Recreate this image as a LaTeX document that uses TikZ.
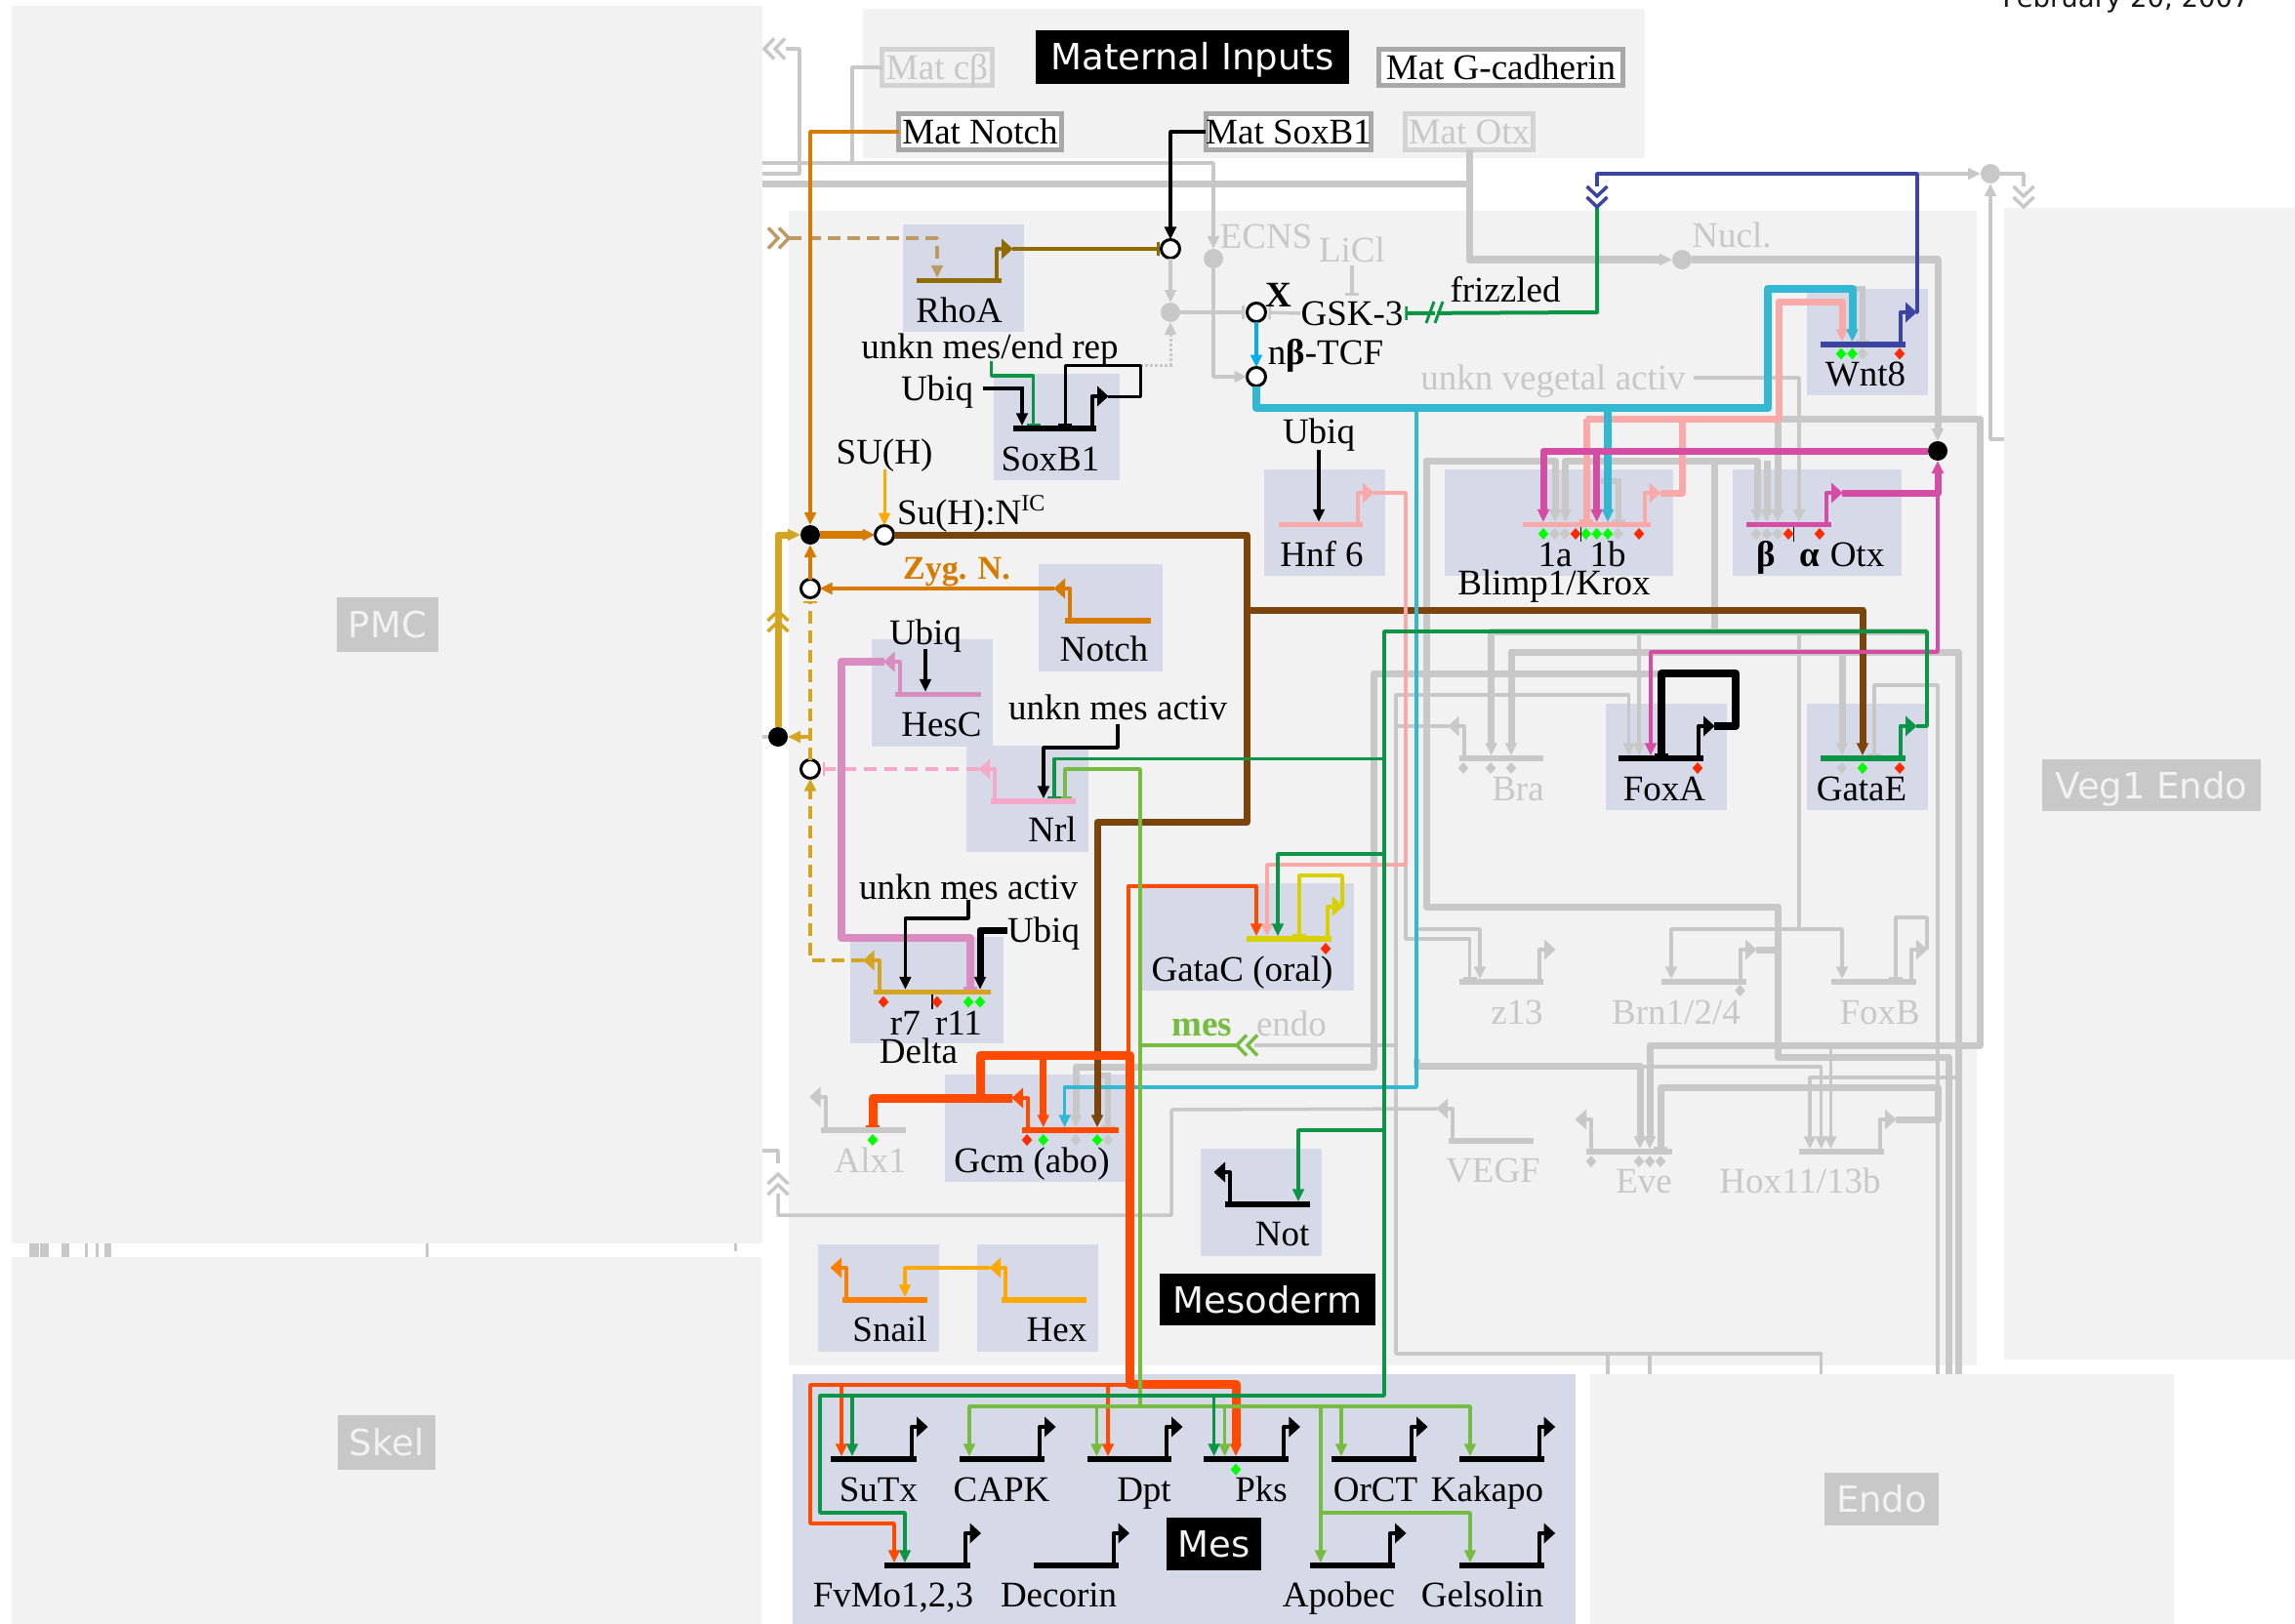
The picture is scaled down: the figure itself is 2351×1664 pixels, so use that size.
\documentclass[tikz,border=0pt]{standalone}
\usepackage{fontspec}
\setmainfont{Liberation Serif}
\newfontfamily\hdrfont{DejaVu Sans}
\usetikzlibrary{arrows.meta}
\definecolor{gy}{HTML}{C8C8C8}
\definecolor{pbg}{HTML}{F2F2F2}
\definecolor{gbg}{HTML}{D6DAE8}
\definecolor{matb}{HTML}{A8A8A8}
\definecolor{rhoc}{HTML}{8F6B00}
\definecolor{tanc}{HTML}{BC9A62}
\definecolor{sal}{HTML}{F9AAA8}
\definecolor{blu}{HTML}{3B44A0}
\definecolor{mag}{HTML}{D44CA4}
\definecolor{org}{HTML}{D67A00}
\definecolor{lorg}{HTML}{FFA800}
\definecolor{mauve}{HTML}{D98CC0}
\definecolor{pnk}{HTML}{F5A8C8}
\definecolor{grn}{HTML}{0C9447}
\definecolor{lgr}{HTML}{76BC40}
\definecolor{yel}{HTML}{D8D000}
\definecolor{gold}{HTML}{D4A520}
\definecolor{rst}{HTML}{FF4A00}
\definecolor{snl}{HTML}{FF7F00}
\definecolor{brw}{HTML}{7A440C}
\definecolor{tea}{HTML}{33B8D4}
\definecolor{dred}{HTML}{FF2A00}
\tikzset{
  ah/.style={-{Triangle[length=13pt,width=11.5pt]}},
  tb/.style={-{Bar[width=14pt,line width=2.5pt]}},
  wr/.style={line width=3.5pt,line join=round},
  wk/.style={line width=7pt,line join=round},
  gthin/.style={wr,draw=gy},
  gthick/.style={wk,draw=gy},
  lbl/.style={font=\fontsize{37}{40}\selectfont,text height=25pt,text depth=0pt,inner sep=0pt,outer sep=0pt,text=black},
  ltg/.style={lbl,text=gy},
  bdot/.style={circle,fill=black,minimum size=20pt,inner sep=0pt,outer sep=0pt},
  gdot/.style={circle,fill=gy,minimum size=20pt,inner sep=0pt,outer sep=0pt},
  wdot/.style={circle,fill=white,draw=black,line width=3pt,minimum size=19pt,inner sep=0pt,outer sep=0pt},
  barnode/.style={rectangle,minimum height=5.5pt,inner sep=0pt,outer sep=0pt},
  panelnode/.style={rectangle,inner sep=0pt,outer sep=0pt},
}
% name x1 y1 x2 y2 fill
\newcommand{\panel}[6]{\node[panelnode,fill=#6,minimum width={(#4-#2)*1pt},minimum height={(#5-#3)*1pt}] (#1) at ({(#2+#4)/2},{(#3+#5)/2}) {};}
% name x1 y1 x2 y2 fill textcolor text
\newcommand{\hdrbox}[8]{\node[panelnode,fill=#6,text=#7,font=\hdrfont\fontsize{37}{40}\selectfont,text height=27pt,text depth=0pt,minimum width={(#4-#2)*1pt},minimum height={(#5-#3)*1pt}] (#1) at ({(#2+#4)/2},{(#3+#5)/2}) {#8};}
% name x1 y1 x2 y2 border fill textcolor text
\newcommand{\matbox}[9]{\node[panelnode,draw=#6,line width=5pt,fill=#7,text=#8,font=\fontsize{37}{40}\selectfont,text height=25pt,text depth=0pt,minimum width={(#4-#2-5)*1pt},minimum height={(#5-#3-5)*1pt}] (#1) at ({(#2+#4)/2},{(#3+#5)/2}) {#9};}
% name x1 x2 ybar color xprom ytop dir
\newcommand{\gene}[8]{%
  \node[barnode,fill=#5,minimum width={(#3-#2)*1pt}] (#1) at ({(#2+#3)/2},#4) {};
  \coordinate (#1-t) at ({#6+(#8)*16},#7);
  \draw[#5,line width=4pt,line join=round] (#6,#4) -- (#6,#7) -- ({#6+(#8)*6},#7);
  \fill[#5] ({#6+(#8)*5},#7-10.5) -- ({#6+(#8)*16.5},#7) -- ({#6+(#8)*5},#7+10.5) -- cycle;
}
\newcommand{\chev}[4]{\begin{scope}[shift={(#1,#2)},rotate=#3]
  \draw[#4,line width=3.5pt,line join=miter] (-10,-10.5) -- (0,0) -- (-10,10.5);
  \draw[#4,line width=3.5pt,line join=miter] (-21,-10.5) -- (-11,0) -- (-21,10.5);
\end{scope}}
\newcommand{\dia}[3]{\fill[#3] (#1-5.3,#2) -- (#1,#2-6) -- (#1+5.3,#2) -- (#1,#2+6) -- cycle;}
\newcommand{\lab}[5][lbl]{\node[#1] (#2) at (#3,#4) {#5};}
\begin{document}
\begin{tikzpicture}[x=1pt,y=-1pt]
\clip (0,0) rectangle (2351,1664);
\fill[white] (0,0) rectangle (2351,1664);
% ---- panels
\panel{pmc}{12}{6}{781}{1274}{pbg}
\panel{skel}{12}{1288}{780}{1664}{pbg}
\panel{matP}{884}{9}{1685}{162}{pbg}
\panel{mesoP}{808}{216}{2025}{1399}{pbg}
\panel{veg}{2053}{213}{2351}{1393}{pbg}
\panel{mesP}{812}{1408}{1614}{1664}{gbg}
\panel{endoP}{1629}{1408}{2227}{1664}{pbg}
% ---- gene backgrounds
\panel{bgRho}{925}{230}{1049}{340}{gbg}
\panel{bgSox}{1018}{383}{1147}{492}{gbg}
\panel{bgHnf}{1295}{481}{1419}{590}{gbg}
\panel{bgWnt}{1851}{296}{1975}{405}{gbg}
\panel{bgBli}{1480}{481}{1714}{590}{gbg}
\panel{bgOtx}{1775}{481}{1948}{590}{gbg}
\panel{bgNot}{1064}{578}{1191}{688}{gbg}
\panel{bgHes}{893}{655}{1017}{765}{gbg}
\panel{bgNrl}{990}{764}{1115}{873}{gbg}
\panel{bgFox}{1645}{721}{1769}{830}{gbg}
\panel{bgGae}{1851}{721}{1975}{830}{gbg}
\panel{bgGac}{1168}{905}{1387}{1015}{gbg}
\panel{bgDel}{871}{960}{1028}{1069}{gbg}
\panel{bgGcm}{968}{1101}{1153}{1211}{gbg}
\panel{bgNt}{1230}{1177}{1354}{1287}{gbg}
\panel{bgSna}{838}{1275}{962}{1385}{gbg}
\panel{bgHex}{1001}{1275}{1125}{1385}{gbg}
% ---- stubs between the PMC and Skel panels
\foreach \a/\b in {30/40,41/50,63/71,87/90,98/101,107/114,436/439}{\fill[gy] (\a,1274) rectangle (\b,1288);}
\fill[gy] (752,1274) rectangle (755,1282);
% ---- headers
\hdrbox{hPMC}{345}{612}{449}{668}{gy}{pbg}{PMC}
\hdrbox{hSkel}{346}{1450}{446}{1506}{gy}{pbg}{Skel}
\hdrbox{hEndo}{1869}{1509}{1986}{1563}{gy}{pbg}{Endo}
\hdrbox{hVeg}{2092}{778}{2316}{831}{gy}{pbg}{Veg1 Endo}
\hdrbox{hMat}{1061}{31}{1382}{86}{black}{white}{Maternal Inputs}
\hdrbox{hMeso}{1188}{1305}{1409}{1358}{black}{pbg}{Mesoderm}
\hdrbox{hMes}{1195}{1555}{1292}{1609}{black}{pbg}{Mes}
\node[font=\hdrfont\fontsize{27.5}{30}\selectfont,anchor=base,inner sep=0pt,text=black!90] (date) at (2178,8) {February 20, 2007};
% ---- maternal boxes
\matbox{matnotch}{918}{114}{1090}{156}{matb}{white}{black}{Mat Notch}
\matbox{matsox}{1233}{114}{1407}{156}{matb}{white}{black}{Mat SoxB1}
\matbox{matotx}{1437}{114}{1573}{156}{gy!80}{pbg}{gy}{Mat Otx}
\matbox{matcb}{901}{48}{1019}{90}{gy!80}{pbg}{gy}{Mat cβ}
\matbox{matg}{1410}{48}{1665}{90}{matb}{white}{black}{Mat G-cadherin}
% ---- genes
\gene{rhoa}{939}{1026}{287.5}{rhoc}{1021}{255}{1}
\gene{sox}{1037.6}{1123}{439}{black}{1119}{406}{1}
\gene{hnf}{1310}{1396}{537.5}{sal}{1391}{505}{1}
\gene{wnt}{1865}{1952}{353}{blu}{1947}{320}{1}
\gene{blimp}{1559.6}{1691}{537.7}{sal}{1684.6}{505}{1}
\gene{otx}{1788.6}{1875.7}{537.7}{mag}{1871}{505}{1}
\gene{notch}{1091}{1179}{636}{org}{1096}{603}{-1}
\gene{hesc}{917}{1005}{711.6}{mauve}{921.6}{678}{-1}
\gene{nrl}{1015}{1102}{821}{pnk}{1019}{788}{-1}
\gene{foxa}{1658}{1745}{777}{black}{1740}{744}{1}
\gene{gatae}{1865}{1952}{777}{grn}{1947}{744}{1}
\gene{bra}{1495}{1581}{777}{gy}{1499.6}{744}{-1}
\gene{gatac}{1276.5}{1363.5}{962}{yel}{1359.6}{928.6}{1}
\gene{delta}{895}{1015}{1016.6}{gold}{900.6}{984}{-1}
\gene{zth}{1495}{1581}{1006}{gy}{1577}{973}{1}
\gene{brn}{1701.6}{1789}{1006}{gy}{1783}{973}{1}
\gene{foxb}{1876}{1962.5}{1006}{gy}{1958}{973}{1}
\gene{gcm}{1047}{1146}{1158}{rst}{1053}{1125}{-1}
\gene{alx}{840.6}{928}{1158}{gy}{845.7}{1124}{-1}
\gene{vegf}{1483.5}{1570.5}{1169}{gy}{1488}{1136}{-1}
\gene{eve}{1625.4}{1712.5}{1180}{gy}{1630}{1147}{-1}
\gene{hox}{1843}{1930}{1180}{gy}{1926}{1147}{1}
\gene{gNot}{1255}{1342}{1234}{black}{1260}{1201}{-1}
\gene{snail}{862.5}{950}{1332}{snl}{867}{1299}{-1}
\gene{hexg}{1026}{1113}{1332}{lorg}{1030}{1299}{-1}
\gene{sutx}{851.4}{939}{1495}{black}{934}{1462}{1}
\gene{capk}{982.5}{1070}{1495}{black}{1065}{1462}{1}
\gene{dpt}{1113.6}{1200}{1495}{black}{1195}{1462}{1}
\gene{pks}{1233}{1320.4}{1495}{black}{1315.4}{1462}{1}
\gene{orct}{1364}{1451}{1495}{black}{1446}{1462}{1}
\gene{kak}{1495}{1581.6}{1495}{black}{1576.6}{1462}{1}
\gene{fv}{906}{993.5}{1604}{black}{988.5}{1571}{1}
\gene{dec}{1058.8}{1145.5}{1604}{black}{1140.5}{1571}{1}
\gene{apo}{1342.4}{1429}{1604}{black}{1424}{1571}{1}
\gene{gel}{1495}{1581.6}{1604}{black}{1576.6}{1571}{1}
% ---- text nodes that wires start from
\lab{gsk}{1385}{321}{GSK-3}
\lab[ltg]{licl}{1385}{256}{LiCl}
\lab[ltg]{uveg}{1591}{387}{unkn vegetal activ}
\lab{unkrep}{1014}{355}{unkn mes/end rep}
\lab{ubiqA}{960}{398}{Ubiq}
\lab{ubiqB}{1351}{442}{Ubiq}
\lab{ubiqC}{948}{648}{Ubiq}
\lab{ubiqD}{1069}{953}{Ubiq}
\lab{unkA}{1145}{725}{unkn mes activ}
\lab{unkB}{992}{909}{unkn mes activ}
\lab{suh}{906}{463}{SU(H)}
% ---- junctions
\node[wdot] (jc) at (1199,255) {};
\node[gdot] (gd) at (1199,320) {};
\node[gdot] (ecns) at (1243,265) {};
\node[wdot] (jX) at (1287,320) {};
\node[wdot] (jT) at (1287,386) {};
\node[bdot] (jA) at (830,548) {};
\node[wdot] (jS) at (906,548) {};
\node[wdot] (jN) at (830,603) {};
\node[bdot] (jB) at (797,755) {};
\node[wdot] (jD) at (830,788) {};
\node[bdot] (jR) at (1985,462) {};
\node[gdot] (nucl) at (1723,266) {};
\node[gdot] (gr) at (2039,178) {};
\coordinate (sl) at (1168,374);
% ---- gray wires, thin
\draw[gthin] (pmc.east|-0,178) -- (819,178) -- (819,50) -- (805,50);
\chev{783}{50}{180}{gy}
\draw[gthin,ah] (pmc.east|-0,167) -| (ecns);
\draw[gthin] (matcb.west) -| (873,167);
\draw[gthin,ah] (jc) -- (gd);
\draw[gthin,tb,shorten >=3pt] (gd) -- (jX);
\draw[gthin,tb,shorten >=3pt] (gsk.west) -- (jX);
\draw[gthin,ah] (ecns) |- (jT);
\draw[gthin,tb,shorten >=6pt,shorten <=3pt] (licl.south) -- (licl.south|-gsk.north);
\draw[gy,line width=3pt,densely dashed,ah] (sl) -| (gd);
\draw[gthin,ah] (1964,178) -- (gr);
\draw[gthin] (gr) -| (2073,191);
\chev{2073}{212}{-90}{gy}
\draw[gthin,ah] (veg.west|-0,450) -| (gr);
\draw[gthin,ah] (uveg.east) ++(8,0) -| (1843,0|-otx.north);
\draw[gthin] (1843,650) -- (1843,952);
\draw[gthin,ah] (1843,952) -- (1712,952) -- (1712,0|-brn.north);
\draw[gthin,ah] (1843,952) -- (1887,952) -- (1887,0|-foxb.north);
\draw[gthin,tb] (foxb-t) -- (1974,973) -- (1974,940) -- (1942,940) -- (1942,0|-foxb.north);
\draw[gthin] (bra-t) -- (1430,744);
\draw[gthin,ah] (1865.6,0|-endoP.north) -- (1865.6,1387) -- (1430,1387) -- (1430,712) -- (1668.6,712) -- (1668.6,0|-foxa.north);
\draw[gthin] (1647,1387) -- (1647,0|-endoP.north);
\draw[gthin] (1690,1387) -- (1690,0|-endoP.north);
\draw[gthin,ah] (1679,647) -- (1679,0|-foxa.north);
\draw[gthin,tb] (1985,0|-endoP.north) -- (1985,702) -- (1920,702) -- (1920,0|-gatae.north);
\draw[gthin,ah] (1451,952) -- (1516,952) -- (1516,0|-zth.north);
\draw[gthin,tb] (1440,886) -- (1440,962) -- (1505.6,962) -- (1505.6,0|-zth.north);
\draw[gthin,ah] (1680,1093) -- (1865.6,1093) -- (1865.6,0|-hox.north);
\draw[gthin,ah] (1875.4,1071) -- (1875.4,0|-hox.north);
\draw[gthin,ah] (2006,1104) -- (1854,1104) -- (1854,0|-hox.north);
\draw[gthin] (1285,1071) -- (1428,1071);
\draw[gthin] (vegf-t) -- (1200,1137) -- (1200,1245) -- (797,1245) -- (797,1223);
\chev{797}{1203}{90}{gy}
\draw[gthin] (797,1192) -- (797,1179) -- (pmc.east|-0,1179);
\draw[gthin] (pmc.east|-0,755) -- (jB);
% ---- gray wires, thick
\draw[gthick] (pmc.east|-0,189) -- (1505,189);
\draw[gthick,ah] (matotx.south) |- (nucl);
\draw[gthick,ah] (nucl) -| (jR);
\draw[gthick,ah] (1996,0|-endoP.north) -- (1996,1083) -- (1821.5,1083) -- (1821.5,929) -- (1461,929) -- (1461,472) -- (1593,472) -- (1593,0|-blimp.north);
\draw[gthick,ah] (1756,472) -- (1603.6,472) -- (1603.6,0|-blimp.north);
\draw[gthick,ah] (1756,472) -- (1800,472) -- (1800,0|-otx.north);
\draw[gthick] (1756,472) -- (1756,647);
\draw[gthick,ah] (1974,647) -- (1527.6,647) -- (1527.6,0|-bra.north);
\draw[gthick,ah] (1810,472) -- (1810,0|-otx.north);
\draw[gthick,ah] (1821,429) -- (1821,0|-otx.north);
\draw[gthick,ah] (1822,429) -- (2028.6,429) -- (2028.6,1071) -- (1690,1071) -- (1690,0|-eve.north);
\draw[gthick,ah] (2006,0|-endoP.north) -- (2006,668) -- (1548,668) -- (1548,0|-bra.north);
\draw[gthick,ah] (1887,668) -- (1887,0|-gatae.north);
\draw[gthick,ah] (1700,690) -- (1407,690) -- (1407,1093) -- (1102,1093) -- (1102,0|-gcm.north);
\draw[gthick,ah] (1451,1085) -- (1451,1092) -- (1680,1092) -- (1680,0|-eve.north);
\draw[gthick,tb] (hox-t) -- (1985,1147) -- (1985,1114) -- (1701,1114) -- (1701,0|-eve.north);
\draw[gthick] (brn-t) -- (1821,973);
\draw[line width=6pt,gy,tb] (1640,493) -- (1658,493) -- (1658,0|-blimp.north);
\draw[line width=6pt,gy,tb] (1897,296) -- (1908,296) -- (1908,0|-wnt.north);
\draw[line width=6pt,gy,tb] (1124,1102) -- (1135,1102) -- (1135,0|-gcm.north);
% ---- brown and salmon
\draw[brw,wk] (jS) -- (1277,548) -- (1277,842.5) -- (1124,842.5) -- (1124,1100);
\draw[brw,wk,ah] (1277,625) -- (1908,625) -- (1908,0|-gatae.north);
\draw[sal,wk] (blimp-t) -- (1723,505) -- (1723,429);
\draw[sal,wk,ah] (1625,429) -- (1822,429) -- (1822,309) -- (1887,309) -- (1887,0|-wnt.north);
\draw[sal,wk,tb] (1625,429) -- (1625,0|-blimp.north);
\draw[sal,wr,ah] (hnf-t) -- (1440,505) -- (1440,886) -- (1298,886) -- (1298,0|-gatac.north);
% ---- teal
\draw[tea,line width=8pt,line join=round,ah] (jT) -- (1287,418) -- (1811,418) -- (1811,296) -- (1897.5,296) -- (1897.5,0|-wnt.north);
\draw[tea,line width=8pt,ah] (1647,418) -- (1647,0|-blimp.north);
\draw[tea,wr,ah] (1451,418) -- (1451,1114) -- (1090.6,1114) -- (1090.6,0|-gcm.north);
\draw[cyan,wr,ah] (jX) -- (jT);
% ---- magenta
\draw[mag,wk,ah] (jR) -- (1581,462) -- (1581,0|-blimp.north);
\draw[mag,wk,ah] (1635.7,462) -- (1635.7,0|-blimp.north);
\draw[mag,wk,ah] (otx-t) -| (jR);
\draw[mag,wr,ah] (1985,505) -- (1985,668) -- (1691,668) -- (1691,0|-foxa.north);
% ---- upper left network
\draw[rhoc,wr,tb,shorten >=2pt] (rhoa-t) -- (jc);
\draw[tanc,wr,dashed,dash pattern=on 13pt off 7pt,ah] (808,244) -- (960,244) -- (960,0|-rhoa.north);
\chev{808}{244}{0}{tanc}
\draw[black,wr,ah] (matsox.west) -| (jc);
\draw[black,line width=4pt,ah,shorten <=10pt] (ubiqA.east) -| (1047,0|-sox.north);
\draw[grn,wr,tb] (1015.7,370) -- (1015.7,385) -- (1058.6,385) -- (1058.6,0|-sox.north);
\draw[black,line width=3pt,line join=round,tb] (sox-t) -- (1168,406) -- (sl) -- (1091,374) -- (1091,0|-sox.north);
\draw[black,wr,ah,shorten <=6pt] (ubiqB.south) -- (ubiqB.south|-hnf.north);
\draw[org,wr,ah] (matnotch.west) -| (jA);
\draw[org,line width=8pt,ah] (jA) -- (jS);
\draw[lorg,line width=3pt,ah,shorten <=5pt] (suh.south) -- (jS);
\draw[org,wr,ah] (notch-t) -- (jN);
\draw[org,wr,ah] (jN) -- (jA);
\draw[gold,line width=3.5pt,dashed,dash pattern=on 13pt off 7pt,ah] (delta-t) -| (jD);
\draw[gold,line width=3.5pt,dashed,dash pattern=on 13pt off 7pt,tb,shorten >=3pt] (jD) -- (jN);
\draw[gold,wr,ah] (830,755) -- (jB);
\draw[gold,wk,ah] (jB) -- (797,548) -- (jA);
\chev{797}{626}{90}{gold}
\draw[pnk,wr,dashed,dash pattern=on 13pt off 8pt,tb,shorten >=3pt] (nrl-t) -- (jD);
\draw[mauve,line width=8pt,line join=round,tb] (hesc-t) -- (862,678) -- (862,961) -- (993.5,961) -- (993.5,0|-delta.north);
\draw[black,wr,ah,shorten <=4pt] (ubiqC.south) -- (ubiqC.south|-hesc.north);
\draw[black,wr,ah,shorten <=4pt] (unkA.south) -- (1145,766) -- (1069,766) -- (1069,0|-nrl.north);
\draw[black,wr,ah] (unkB.south) -- (992,941) -- (927.4,941) -- (927.4,0|-delta.north);
\draw[black,wk,ah] (ubiqD.west) -| (1004,0|-delta.north);
\draw[black,line width=8pt,line join=round,tb] (foxa-t) -- (1778,744) -- (1778,690) -- (1702,690) -- (1702,0|-foxa.north);
% ---- orange-red
\draw[rst,line width=9pt,line join=round,tb] (gcm-t) -- (894,1125) -- (894,0|-alx.north);
\draw[rst,line width=9pt,line join=round,ah] (1004,1125) -- (1004,1081) -- (1157,1081) -- (1157,1418) -- (1266,1418) -- (1266,0|-pks.north);
\draw[brw,wk,ah] (1124,1095) -- (1124,0|-gcm.north);
\draw[rst,wk,ah] (1068.7,1081) -- (1068.7,0|-gcm.north);
\draw[rst,line width=4pt,line join=round,ah] (1156,1081) -- (1156,908) -- (1287,908) -- (1287,0|-gatac.north);
\draw[rst,wr,ah] (1157,1419) -- (830,1419) -- (830,1561) -- (916,1561) -- (916,0|-fv.north);
\draw[rst,wr,ah] (862,1419) -- (862,0|-sutx.north);
\draw[rst,wr,ah] (1135,1419) -- (1135,0|-dpt.north);
% ---- light green
\draw[lgr,wr,tb] (1168,1441) -- (1168,788) -- (1091,788) -- (1091,0|-nrl.north);
\draw[lgr,wr] (1168,1071) -- (1270,1071);
\chev{1267}{1071}{180}{lgr}
\draw[lgr,wr,ah] (1506,1441) -- (993,1441) -- (993,0|-capk.north);
\draw[lgr,wr,ah] (993,1441) -- (1506,1441) -- (1506,0|-kak.north);
\draw[lgr,wr,ah] (1123.5,1441) -- (1123.5,0|-dpt.north);
\draw[lgr,wr,ah] (1254.6,1441) -- (1254.6,0|-pks.north);
\draw[lgr,wr,ah] (1374,1441) -- (1374,0|-orct.north);
\draw[lgr,wr,ah] (1352.8,1441) -- (1352.8,0|-apo.north);
\draw[lgr,wr,ah] (1352.8,1550) -- (1506,1550) -- (1506,0|-gel.north);
% ---- green
\draw[grn,wr,tb] (1418,777.5) -- (1080,777.5) -- (1080,0|-nrl.north);
\draw[grn,wr,ah] (gatae-t) -- (1974,744) -- (1974,647) -- (1418,647) -- (1418,1430) -- (840,1430) -- (840,1550) -- (927,1550) -- (927,0|-fv.north);
\draw[grn,wr,ah] (1418,875) -- (1309,875) -- (1309,0|-gatac.north);
\draw[grn,wr,ah] (1418,1158) -- (1330,1158) -- (1330,0|-gNot.north);
\draw[grn,wr,ah] (1243.6,1430) -- (1243.6,0|-pks.north);
\draw[grn,wr,ah] (873,1430) -- (873,0|-sutx.north);
\draw[grn,line width=4pt,line join=round,tb,shorten >=2pt] (1636,211) -- (1636,320) -- (gsk.east);
\draw[pbg,line width=5pt] (1470,320) -- (1472,320);
\draw[grn,line width=3pt] (1461,331) -- (1469,309);
\draw[grn,line width=3pt] (1470,331) -- (1478,309);
\draw[blu,wr] (wnt-t) -- (1964,320) -- (1964,178) -- (1636,178) -- (1636,191);
\chev{1636}{212}{-90}{blu}
% ---- yellow, orange loops
\draw[yel,wr,tb] (gatac-t) -- (1375,928.6) -- (1375,897) -- (1331,897) -- (1331,0|-gatac.north);
\draw[lorg,wr,ah] (hexg-t) -- (927,1299) -- (927,0|-snail.north);
% ---- diamonds
\foreach \x/\c in {1886/green,1897.5/green,1908/gy,1946/dred}{\dia{\x}{362.5}{\c}}
\foreach \x/\c in {1581/green,1592.5/gy,1603/gy,1614/dred,1624.6/green,1635.7/green,1647/green,1657.5/gy,1679/dred}{\dia{\x}{547}{\c}}
\foreach \x/\c in {1799/gy,1810/gy,1821/gy,1832/dred,1864/dred}{\dia{\x}{547}{\c}}
\draw[black,line width=1.5pt] (1619.6,540) -- (1619.6,555);
\draw[black,line width=1.5pt] (1837.5,540) -- (1837.5,555);
\draw[black,line width=1.5pt] (955,1019) -- (955,1034);
\foreach \x/\c in {905/dred,960/dred,992/green,1004/green}{\dia{\x}{1026.6}{\c}}
\dia{1739}{787}{dred}
\foreach \x/\c in {1886.7/gy,1908/green,1946/dred}{\dia{\x}{787}{\c}}
\foreach \x in {1499,1527,1548}{\dia{\x}{787}{gy}}
\dia{1358}{972}{dred}
\dia{1782.5}{1015}{gy}
\foreach \x/\c in {1052/dred,1068.7/green,1102/gy,1124/green,1135/gy}{\dia{\x}{1168}{\c}}
\dia{894}{1168}{green}
\foreach \x in {1630,1679,1690,1701}{\dia{\x}{1190}{gy}}
\dia{1266}{1505.7}{green}
% ---- labels
\lab{lRho}{982.6}{318}{RhoA}
\lab{lSox}{1076}{470}{SoxB1}
\lab{lHnf}{1354}{568}{Hnf 6}
\lab{lWnt}{1911}{383}{Wnt8}
\lab{l1a}{1593}{568}{1a}
\lab{l1b}{1647}{568}{1b}
\lab{lBli}{1592}{597}{Blimp1/Krox}
\node[lbl,font=\bfseries\fontsize{37}{40}\selectfont] (lBeta) at (1809.6,568) {β};
\node[lbl,font=\bfseries\fontsize{37}{40}\selectfont] (lAlpha) at (1853.6,568) {α};
\lab{lOtx}{1902.5}{568}{Otx}
\lab{lFoxA}{1705}{807.5}{FoxA}
\lab{lGatE}{1907}{807.5}{GataE}
\lab[ltg]{lBra}{1555}{807.5}{Bra}
\lab[ltg]{lz13}{1554}{1037}{z13}
\lab[ltg]{lBrn}{1717}{1037}{Brn1/2/4}
\lab[ltg]{lFoxB}{1925.7}{1037}{FoxB}
\lab[ltg]{lVEGF}{1529.5}{1199}{VEGF}
\lab[ltg]{lEve}{1684}{1210}{Eve}
\lab[ltg]{lHox}{1844}{1210}{Hox11/13b}
\lab[ltg]{lAlx}{891.6}{1189}{Alx1}
\lab[ltg]{lECNS}{1297}{242}{ECNS}
\lab[ltg]{lNucl}{1774}{241}{Nucl.}
\lab[ltg]{lendo}{1323}{1049}{endo}
\node[lbl,text=lgr,font=\bfseries\fontsize{37}{40}\selectfont] (lmes) at (1231,1049) {mes};
\node[lbl,text=org,font=\bfseries\fontsize{34}{40}\selectfont] (lzyg) at (980,581) {Zyg. N.};
\node[lbl,font=\bfseries\fontsize{37}{40}\selectfont] (lX) at (1310,302) {X};
\lab{lfriz}{1542}{297}{frizzled}
\lab{lbTCF}{1358}{361}{n\textbf{β}-TCF}
\node[lbl,anchor=west] (lSuN) at (919,525) {Su(H):N\raisebox{14pt}{\fontsize{24}{24}\selectfont IC}};
\lab{lNotch}{1131}{665}{Notch}
\lab{lHes}{964.5}{742}{HesC}
\lab{lNrl}{1078}{850}{Nrl}
\lab{lGac}{1272.5}{993}{GataC (oral)}
\lab{lr7}{927.4}{1048}{r7}
\lab{lr11}{982}{1048}{r11}
\lab{lDel}{941}{1077}{Delta}
\lab{lGcm}{1057}{1189}{Gcm (abo)}
\lab{lNot}{1313.6}{1264}{Not}
\lab{lSna}{911.5}{1362}{Snail}
\lab{lHex}{1082.5}{1362}{Hex}
\lab{lSu}{900}{1526}{SuTx}
\lab{lCap}{1026}{1526}{CAPK}
\lab{lDpt}{1172}{1526}{Dpt}
\lab{lPks}{1292}{1526}{Pks}
\lab{lOr}{1409}{1526}{OrCT}
\lab{lKak}{1523.5}{1526}{Kakapo}
\lab{lFv}{915}{1634}{FvMo1,2,3}
\lab{lDec}{1084.6}{1634}{Decorin}
\lab{lApo}{1371.5}{1634}{Apobec}
\lab{lGel}{1518.5}{1634}{Gelsolin}
\end{tikzpicture}
\end{document}
